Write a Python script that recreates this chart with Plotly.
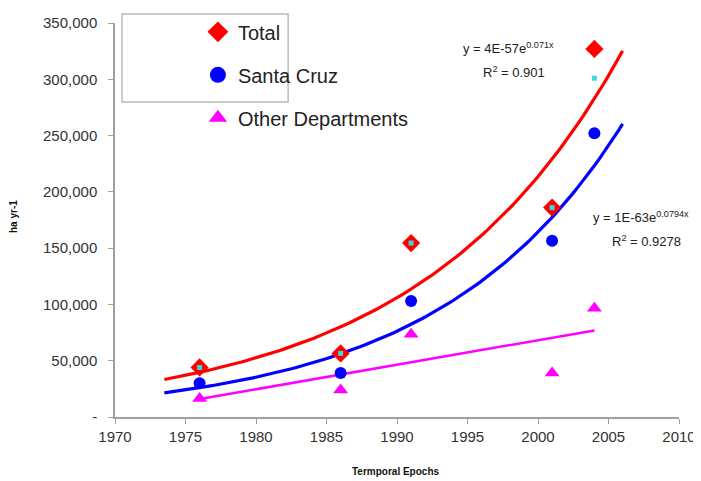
import numpy as np
import plotly.graph_objects as go

years = [1976, 1986, 1991, 2001, 2004]
total = [44000, 56500, 154500, 186000, 327000]
total_alt = [44000, 56500, 154500, 186000, 301000]
santa_cruz = [30000, 39000, 103000, 156500, 252000]
other = [16500, 24000, 73500, 39000, 96500]

y_tickvals = [0, 50000, 100000, 150000, 200000, 250000, 300000, 350000]
y_ticktext = ["-", "50,000", "100,000", "150,000", "200,000", "250,000", "300,000", "350,000"]
x_tickvals = [1970, 1975, 1980, 1985, 1990, 1995, 2000, 2005, 2010]

x = np.array(years, dtype=float)

# Excel-style trendlines fitted from the data
def expfit(yv):
    b, a = np.polyfit(x, np.log(np.array(yv, dtype=float)), 1)
    return a, b

xe = np.linspace(1973.5, 2006, 120)
a_t, b_t = expfit(total)
a_s, b_s = expfit(santa_cruz)
m_o, c_o = np.polyfit(x, np.array(other, dtype=float), 1)
xl = np.array([1976, 2004], dtype=float)

fig = go.Figure()
fig.add_trace(go.Scatter(x=xe, y=np.exp(a_t + b_t * xe), mode="lines",
                         line=dict(color="#ff0000", width=3.2), showlegend=False, hoverinfo="skip"))
fig.add_trace(go.Scatter(x=xe, y=np.exp(a_s + b_s * xe), mode="lines",
                         line=dict(color="#0000ff", width=3.2), showlegend=False, hoverinfo="skip"))
fig.add_trace(go.Scatter(x=xl, y=m_o * xl + c_o, mode="lines",
                         line=dict(color="#ff00ff", width=2.5), showlegend=False, hoverinfo="skip"))

series = [
    ("Total", total, "diamond", 14, "#ff0000", 18, "a"),
    ("Santa Cruz", santa_cruz, "circle", 12, "#0000ff", 16, "b"),
    ("Other Departments", other, "triangle-up", 13, "#ff00ff", 17, "c"),
]
for name, vals, sym, sz, col, lsz, grp in series:
    fig.add_trace(go.Scatter(x=years, y=vals, mode="markers", name=name, legendgroup=grp,
                             showlegend=False, marker=dict(symbol=sym, size=sz, color=col)))
    # legend entry with the larger legend symbol
    fig.add_trace(go.Scatter(x=[None], y=[None], mode="markers", name=name, legendgroup=grp,
                             showlegend=True, marker=dict(symbol=sym, size=lsz, color=col)))
fig.add_trace(go.Scatter(x=years, y=total_alt, mode="markers", name="Total (alt)", showlegend=False,
                         marker=dict(symbol="square", size=5, color="#33dddd")))

fig.add_shape(type="rect", xref="paper", yref="paper", x0=0.0124, x1=0.307, y0=0.7995, y1=1.0228,
              line=dict(color="#bbbbbb", width=1.5), fillcolor="rgba(255,255,255,0)", layer="below")

ann_font = dict(family="Liberation Sans, Arial", size=13, color="#222222")
def pann(px, py, text, font=ann_font, angle=0):
    fig.add_annotation(x=(px - 115) / 564, y=(417 - py) / 394, xref="paper", yref="paper",
                       text=text, showarrow=False, font=font, xanchor="center", yanchor="middle",
                       textangle=angle)
pann(508, 48, "y = 4E-57e<sup>0.071x</sup>")
pann(514, 72, "R<sup>2</sup> = 0.901")
pann(641, 217, "y = 1E-63e<sup>0.0794x</sup>")
pann(646, 241, "R<sup>2</sup> = 0.9278")
title_font = dict(family="Liberation Sans, Arial", size=10, color="#111111")
pann(395, 471, "<b>Termporal Epochs</b>", title_font)
pann(13, 217, "<b>ha yr-1</b>", title_font, -90)

axis_line = "#a0a0a0"
# page body has an 8px margin: size the figure so the plot area lands where the reference has it
fig.update_layout(
    width=693, height=473,
    margin=dict(l=107, r=22, t=15, b=64, autoexpand=False),
    plot_bgcolor="white", paper_bgcolor="white",
    font=dict(family="Liberation Sans, Arial", color="#333333"),
    showlegend=True,
    legend=dict(x=0.147, y=1.027, xanchor="left", yanchor="top", bgcolor="rgba(0,0,0,0)",
                borderwidth=0, font=dict(size=20, color="#222222"), traceorder="grouped",
                tracegroupgap=14, itemsizing="trace"),
    xaxis=dict(range=[1970, 2010], tickvals=x_tickvals, showgrid=False, zeroline=False,
               showline=True, linecolor=axis_line, linewidth=1.5, ticks="outside", ticklen=5,
               tickcolor=axis_line, tickfont=dict(size=15, color="#333333"), automargin=False),
    yaxis=dict(range=[0, 350000], tickvals=y_tickvals, ticktext=y_ticktext, showgrid=False,
               zeroline=False, showline=True, linecolor=axis_line, linewidth=1.5, ticks="outside",
               ticklen=5, tickcolor=axis_line, tickfont=dict(size=15, color="#333333"),
               ticklabelstandoff=8, automargin=False),
)

fig.write_html("out.html")
